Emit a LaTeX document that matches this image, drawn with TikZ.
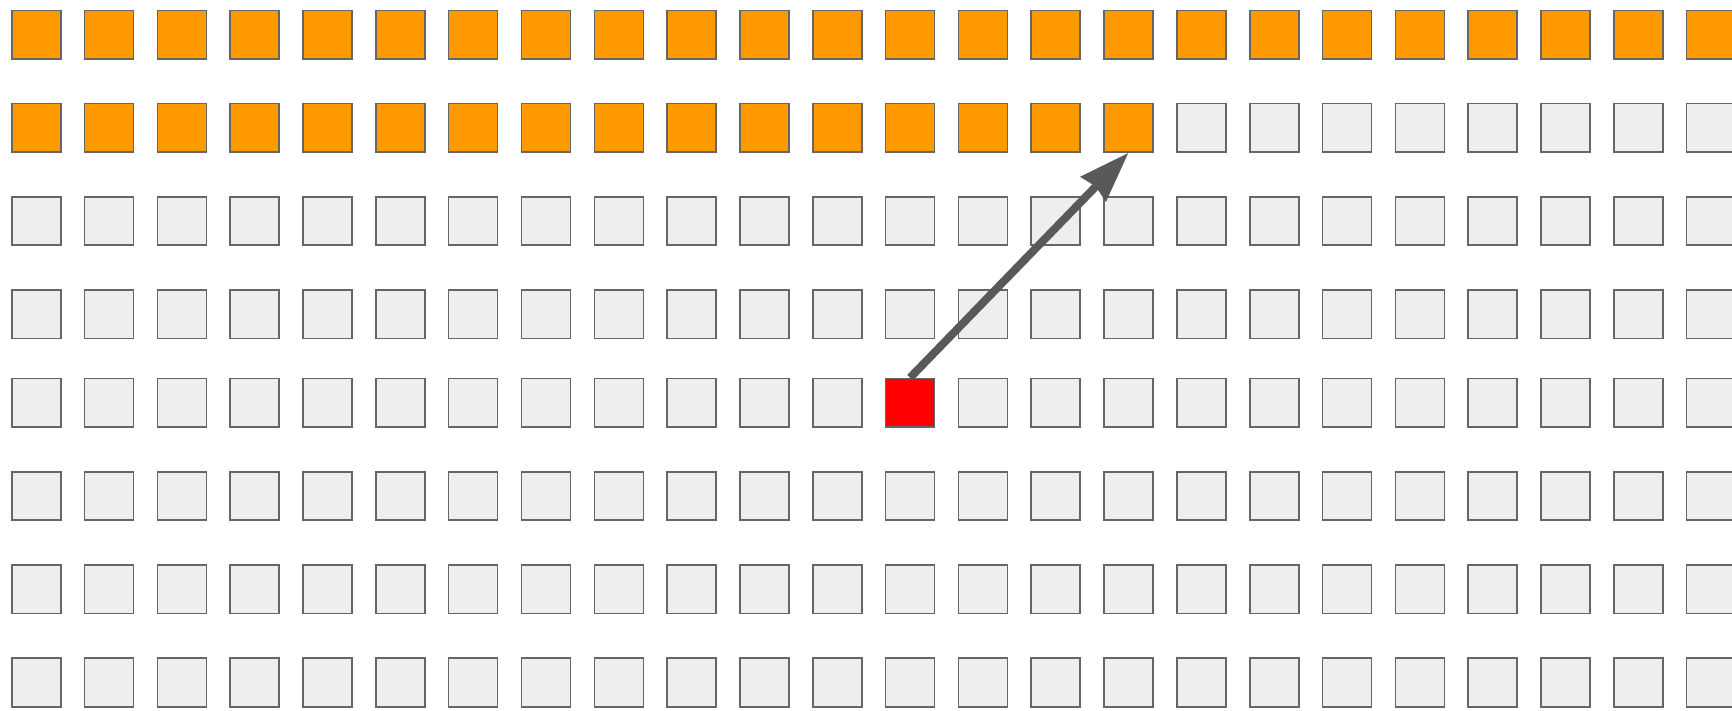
\documentclass[tikz,border=0pt]{standalone}
\usepackage{tikz}
\usetikzlibrary{arrows.meta}

\definecolor{cellline}{HTML}{666666}
\definecolor{cellfill}{HTML}{EEEEEE}
\definecolor{seenfill}{HTML}{FF9900}
\definecolor{arrowgray}{HTML}{595959}

\begin{document}
\begin{tikzpicture}[x=1pt, y=-1pt, >=Stealth,
  cellbox/.style={draw=cellline, line width=1.6pt, fill=cellfill,
    minimum width=49pt, minimum height=48.5pt, inner sep=0pt},
  seen/.style={fill=seenfill},
  current/.style={fill=red}]
  \useasboundingbox (0,0) rectangle (1732,710);
  % 8 rows x 24 columns, row 4 sits a bit higher
  \foreach \r/\y in {0/34.7, 1/127.7, 2/221, 3/314.2, 4/402.7, 5/496, 6/589.3, 7/682.5} {
    \foreach \c in {0,...,23} {
      \pgfmathtruncatemacro\idx{\r*24+\c}
      \ifnum\idx<40 \def\kind{seen}\else\def\kind{cellbox}\fi
      \ifnum\idx=108 \def\kind{current}\fi
      \node[cellbox, \kind] (c\r-\c) at ({36.25+\c*72.82}, \y) {};
    }
  }
  % jump from the current cell to the last filled one
  \draw[draw=arrowgray, line width=8pt,
    -{Stealth[length=50pt, width=34pt, inset=3pt, fill=arrowgray]}] (c4-12.north) -- (c1-15.south);
\end{tikzpicture}
\end{document}
